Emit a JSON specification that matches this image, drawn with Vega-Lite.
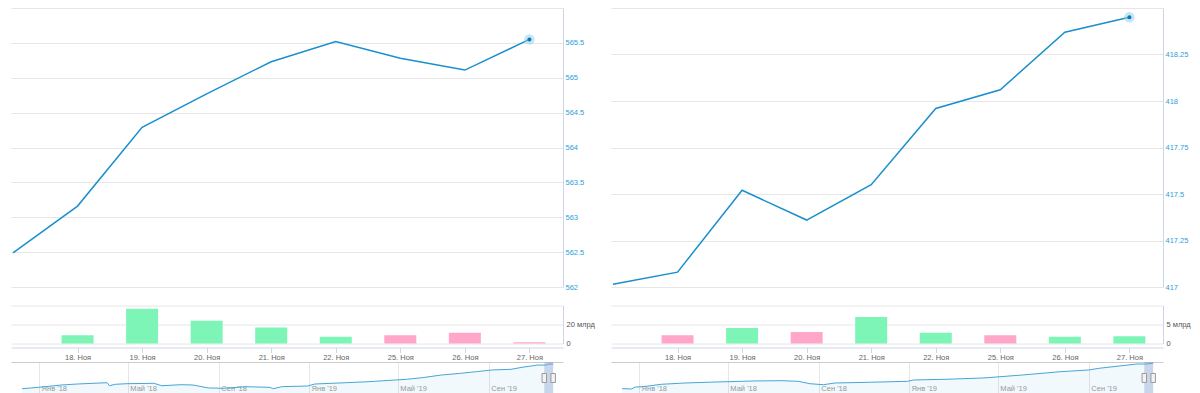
{
  "$schema": "https://vega.github.io/schema/vega-lite/v6.json",
  "padding": {"left": 10, "top": 8, "right": 0, "bottom": 0},
  "config": {
    "view": {"stroke": null},
    "font": "Liberation Sans",
    "axis": {"labelFont": "Liberation Sans", "labelFontSize": 7.5, "title": null, "labelOverlap": false, "tickCount": 20}
  },
  "datasets": {
    "a": [
      {"date": "2019-11-15", "price": 562.49, "vol": null, "flow": "in"},
      {"date": "2019-11-18", "price": 563.16, "vol": 8.6, "flow": "in"},
      {"date": "2019-11-19", "price": 564.29, "vol": 36.6, "flow": "in"},
      {"date": "2019-11-20", "price": 564.77, "vol": 24.0, "flow": "in"},
      {"date": "2019-11-21", "price": 565.23, "vol": 16.8, "flow": "in"},
      {"date": "2019-11-22", "price": 565.52, "vol": 7.1, "flow": "in"},
      {"date": "2019-11-25", "price": 565.28, "vol": 8.6, "flow": "out"},
      {"date": "2019-11-26", "price": 565.11, "vol": 11.4, "flow": "out"},
      {"date": "2019-11-27", "price": 565.55, "vol": 1.4, "flow": "out"}
    ],
    "b": [
      {"date": "2019-11-15", "price": 417.015, "vol": null, "flow": "in"},
      {"date": "2019-11-18", "price": 417.08, "vol": 2.2, "flow": "out"},
      {"date": "2019-11-19", "price": 417.52, "vol": 4.1, "flow": "in"},
      {"date": "2019-11-20", "price": 417.36, "vol": 3.0, "flow": "out"},
      {"date": "2019-11-21", "price": 417.55, "vol": 7.0, "flow": "in"},
      {"date": "2019-11-22", "price": 417.96, "vol": 2.8, "flow": "in"},
      {"date": "2019-11-25", "price": 418.06, "vol": 2.2, "flow": "out"},
      {"date": "2019-11-26", "price": 418.37, "vol": 1.8, "flow": "in"},
      {"date": "2019-11-27", "price": 418.45, "vol": 1.9, "flow": "in"}
    ],
    "navA": [
      {"date": "2017-12-09", "v": 500.0}, {"date": "2018-01-01", "v": 503.7}, {"date": "2018-01-31", "v": 509.8},
      {"date": "2018-02-22", "v": 512.5}, {"date": "2018-04-03", "v": 515.9}, {"date": "2018-04-06", "v": 507.9},
      {"date": "2018-04-14", "v": 511.7}, {"date": "2018-04-30", "v": 513.3}, {"date": "2018-06-05", "v": 514.3},
      {"date": "2018-06-16", "v": 507.9}, {"date": "2018-07-12", "v": 510.6}, {"date": "2018-07-28", "v": 509.8},
      {"date": "2018-08-18", "v": 501.9}, {"date": "2018-09-07", "v": 501.1}, {"date": "2018-10-08", "v": 505.3},
      {"date": "2018-11-08", "v": 503.7}, {"date": "2018-11-14", "v": 500.0}, {"date": "2018-11-25", "v": 505.3},
      {"date": "2018-12-30", "v": 507.2}, {"date": "2019-01-09", "v": 512.5}, {"date": "2019-02-20", "v": 515.9},
      {"date": "2019-03-23", "v": 518.6}, {"date": "2019-04-12", "v": 521.2}, {"date": "2019-05-13", "v": 524.9},
      {"date": "2019-06-03", "v": 529.2}, {"date": "2019-06-29", "v": 536.3}, {"date": "2019-07-25", "v": 540.8},
      {"date": "2019-08-15", "v": 545.1}, {"date": "2019-09-05", "v": 549.6}, {"date": "2019-10-01", "v": 551.4},
      {"date": "2019-10-16", "v": 556.7}, {"date": "2019-11-06", "v": 562.8}, {"date": "2019-11-15", "v": 562.49},
      {"date": "2019-11-18", "v": 563.16}, {"date": "2019-11-19", "v": 564.29}, {"date": "2019-11-20", "v": 564.77},
      {"date": "2019-11-21", "v": 565.23}, {"date": "2019-11-22", "v": 565.52}, {"date": "2019-11-25", "v": 565.28},
      {"date": "2019-11-26", "v": 565.11}, {"date": "2019-11-27", "v": 565.55}
    ],
    "navB": [
      {"date": "2017-12-09", "v": 372.0}, {"date": "2017-12-22", "v": 371.5}, {"date": "2017-12-27", "v": 375.1},
      {"date": "2018-01-06", "v": 375.6}, {"date": "2018-01-31", "v": 380.0}, {"date": "2018-03-04", "v": 382.4},
      {"date": "2018-04-15", "v": 384.2}, {"date": "2018-06-05", "v": 386.1}, {"date": "2018-07-12", "v": 386.6},
      {"date": "2018-08-04", "v": 385.5}, {"date": "2018-08-20", "v": 381.1}, {"date": "2018-09-07", "v": 379.3},
      {"date": "2018-09-23", "v": 382.4}, {"date": "2018-11-08", "v": 383.7}, {"date": "2018-12-30", "v": 385.5},
      {"date": "2019-01-07", "v": 387.9}, {"date": "2019-02-20", "v": 389.2}, {"date": "2019-04-12", "v": 391.6},
      {"date": "2019-06-03", "v": 397.0}, {"date": "2019-07-25", "v": 403.1}, {"date": "2019-09-01", "v": 406.2},
      {"date": "2019-09-15", "v": 409.3}, {"date": "2019-10-16", "v": 414.1}, {"date": "2019-11-06", "v": 417.2},
      {"date": "2019-11-15", "v": 417.015}, {"date": "2019-11-18", "v": 417.08}, {"date": "2019-11-19", "v": 417.52},
      {"date": "2019-11-20", "v": 417.36}, {"date": "2019-11-21", "v": 417.55}, {"date": "2019-11-22", "v": 417.96},
      {"date": "2019-11-25", "v": 418.06}, {"date": "2019-11-26", "v": 418.37}, {"date": "2019-11-27", "v": 418.45}
    ],
    "sel": [{"from": "2019-11-15", "to": "2019-11-27"}],
    "handles": [{"date": "2019-11-15"}, {"date": "2019-11-27"}]
  },
  "columns": 2,
  "spacing": {"row": 18.5, "column": 48},
  "bounds": "flush",
  "concat": [
    {
      "width": 552, "height": 279,
      "data": {"name": "a"},
      "layer": [
        {
          "mark": {"type": "line", "color": "#1a8fcd", "strokeWidth": 1.5},
          "encoding": {
            "x": {"field": "date", "type": "ordinal", "scale": {"type": "point", "domain": ["2019-11-15","2019-11-18","2019-11-19","2019-11-20","2019-11-21","2019-11-22","2019-11-25","2019-11-26","2019-11-27"], "padding": 0.2757, "align": 0.0562, "round": false}, "axis": null},
            "y": {"field": "price", "type": "quantitative", "scale": {"domain": [562, 566], "nice": false, "zero": false},
              "axis": {"orient": "right", "values": [562, 562.5, 563, 563.5, 564, 564.5, 565, 565.5], "tickCount": 20, "labelExpr": "'' + datum.value", "ticks": false, "domainColor": "#ccd6eb", "labelColor": "#2d9fd9", "labelPadding": 2, "grid": true, "gridColor": "#e6e6e6"}}
          }
        },
        {
          "transform": [{"filter": "datum.date == '2019-11-27'"}],
          "mark": {"type": "point", "filled": true, "size": 110, "color": "#8fcdeb", "opacity": 0.5},
          "encoding": {"x": {"field": "date", "type": "ordinal"}, "y": {"field": "price", "type": "quantitative",
            "axis": {"orient": "left", "values": [566], "labels": false, "ticks": false, "domain": false, "grid": true, "gridColor": "#e6e6e6"}}}
        },
        {
          "transform": [{"filter": "datum.date == '2019-11-27'"}],
          "mark": {"type": "point", "filled": true, "size": 16, "color": "#0b78b5", "opacity": 1},
          "encoding": {"x": {"field": "date", "type": "ordinal"}, "y": {"field": "price", "type": "quantitative", "axis": null}}
        }
      ],
      "resolve": {"axis": {"y": "independent"}}
    },
    {
      "width": 552, "height": 279,
      "data": {"name": "b"},
      "layer": [
        {
          "mark": {"type": "line", "color": "#1a8fcd", "strokeWidth": 1.5},
          "encoding": {
            "x": {"field": "date", "type": "ordinal", "scale": {"type": "point", "domain": ["2019-11-15","2019-11-18","2019-11-19","2019-11-20","2019-11-21","2019-11-22","2019-11-25","2019-11-26","2019-11-27"], "padding": 0.2757, "align": 0.0562, "round": false}, "axis": null},
            "y": {"field": "price", "type": "quantitative", "scale": {"domain": [417, 418.5], "nice": false, "zero": false},
              "axis": {"orient": "right", "values": [417, 417.25, 417.5, 417.75, 418, 418.25], "tickCount": 20, "labelExpr": "'' + datum.value", "ticks": false, "domainColor": "#ccd6eb", "labelColor": "#2d9fd9", "labelPadding": 2, "grid": true, "gridColor": "#e6e6e6"}}
          }
        },
        {
          "transform": [{"filter": "datum.date == '2019-11-27'"}],
          "mark": {"type": "point", "filled": true, "size": 110, "color": "#8fcdeb", "opacity": 0.5},
          "encoding": {"x": {"field": "date", "type": "ordinal"}, "y": {"field": "price", "type": "quantitative",
            "axis": {"orient": "left", "values": [418.5], "labels": false, "ticks": false, "domain": false, "grid": true, "gridColor": "#e6e6e6"}}}
        },
        {
          "transform": [{"filter": "datum.date == '2019-11-27'"}],
          "mark": {"type": "point", "filled": true, "size": 16, "color": "#0b78b5", "opacity": 1},
          "encoding": {"x": {"field": "date", "type": "ordinal"}, "y": {"field": "price", "type": "quantitative", "axis": null}}
        }
      ],
      "resolve": {"axis": {"y": "independent"}}
    },
    {
      "width": 552, "height": 38,
      "data": {"name": "a"},
      "layer": [
        {
          "transform": [{"filter": "datum.flow == 'in'"}],
          "mark": {"type": "bar", "width": 32, "color": "#7cf5b7"},
          "encoding": {
            "x": {"field": "date", "type": "ordinal", "scale": {"type": "point", "domain": ["2019-11-15","2019-11-18","2019-11-19","2019-11-20","2019-11-21","2019-11-22","2019-11-25","2019-11-26","2019-11-27"], "padding": 0.2757, "align": 0.0562, "round": false},
              "axis": {"orient": "bottom", "values": ["2019-11-18","2019-11-19","2019-11-20","2019-11-21","2019-11-22","2019-11-25","2019-11-26","2019-11-27"], "labelExpr": "slice(datum.value, 8) + '. Ноя'", "offset": 4, "domainColor": "#ccd6eb", "tickColor": "#ccd6eb", "tickSize": 5, "labelColor": "#666666", "labelPadding": 1, "labelAngle": 0, "grid": false}},
            "y": {"field": "vol", "type": "quantitative", "scale": {"domain": [0, 40], "nice": false},
              "axis": {"orient": "right", "values": [0, 20], "tickCount": 20, "labelExpr": "datum.value == 0 ? '0' : datum.value + ' млрд'", "ticks": false, "domainColor": "#ccd6eb", "labelColor": "#555555", "labelPadding": 3, "grid": true, "gridColor": "#e6e6e6"}}
          }
        },
        {
          "transform": [{"filter": "datum.flow == 'out'"}],
          "mark": {"type": "bar", "width": 32, "color": "#ffa6c9"},
          "encoding": {
            "x": {"field": "date", "type": "ordinal"},
            "y": {"field": "vol", "type": "quantitative",
              "axis": {"orient": "left", "values": [40], "labels": false, "ticks": false, "domain": false, "grid": true, "gridColor": "#e6e6e6"}}
          }
        }
      ],
      "resolve": {"axis": {"y": "independent"}}
    },
    {
      "width": 552, "height": 38,
      "data": {"name": "b"},
      "layer": [
        {
          "transform": [{"filter": "datum.flow == 'in'"}],
          "mark": {"type": "bar", "width": 32, "color": "#7cf5b7"},
          "encoding": {
            "x": {"field": "date", "type": "ordinal", "scale": {"type": "point", "domain": ["2019-11-15","2019-11-18","2019-11-19","2019-11-20","2019-11-21","2019-11-22","2019-11-25","2019-11-26","2019-11-27"], "padding": 0.2757, "align": 0.0562, "round": false},
              "axis": {"orient": "bottom", "values": ["2019-11-18","2019-11-19","2019-11-20","2019-11-21","2019-11-22","2019-11-25","2019-11-26","2019-11-27"], "labelExpr": "slice(datum.value, 8) + '. Ноя'", "offset": 4, "domainColor": "#ccd6eb", "tickColor": "#ccd6eb", "tickSize": 5, "labelColor": "#666666", "labelPadding": 1, "labelAngle": 0, "grid": false}},
            "y": {"field": "vol", "type": "quantitative", "scale": {"domain": [0, 10], "nice": false},
              "axis": {"orient": "right", "values": [0, 5], "tickCount": 20, "labelExpr": "datum.value == 0 ? '0' : datum.value + ' млрд'", "ticks": false, "domainColor": "#ccd6eb", "labelColor": "#555555", "labelPadding": 3, "grid": true, "gridColor": "#e6e6e6"}}
          }
        },
        {
          "transform": [{"filter": "datum.flow == 'out'"}],
          "mark": {"type": "bar", "width": 32, "color": "#ffa6c9"},
          "encoding": {
            "x": {"field": "date", "type": "ordinal"},
            "y": {"field": "vol", "type": "quantitative",
              "axis": {"orient": "left", "values": [10], "labels": false, "ticks": false, "domain": false, "grid": true, "gridColor": "#e6e6e6"}}
          }
        }
      ],
      "resolve": {"axis": {"y": "independent"}}
    },
    {
      "width": 552, "height": 31,
      "layer": [
        {
          "data": {"name": "navA"},
          "mark": {"type": "area", "color": "#4da6d9", "opacity": 0.07, "clip": true},
          "encoding": {
            "x": {"field": "date", "type": "temporal", "scale": {"type": "utc", "domain": [{"year": 2017, "month": 11, "date": 24, "utc": true}, {"year": 2019, "month": 12, "date": 10, "hours": 7, "utc": true}]},
              "axis": {"orient": "top", "labels": false, "ticks": false, "grid": false, "domain": true, "domainColor": "#cccccc"}},
            "y": {"field": "v", "type": "quantitative", "scale": {"domain": [488.6, 570.8], "nice": false, "zero": false}, "axis": null}
          }
        },
        {
          "data": {"name": "navA"},
          "mark": {"type": "line", "color": "#47a5d8", "strokeWidth": 1, "clip": true},
          "encoding": {
            "x": {"field": "date", "type": "temporal",
              "axis": {"orient": "bottom", "offset": -10, "values": [{"year": 2018, "month": 1, "date": 1, "utc": true}, {"year": 2018, "month": 5, "date": 1, "utc": true}, {"year": 2018, "month": 9, "date": 1, "utc": true}, {"year": 2019, "month": 1, "date": 1, "utc": true}, {"year": 2019, "month": 5, "date": 1, "utc": true}, {"year": 2019, "month": 9, "date": 1, "utc": true}],
                "labelExpr": "['Янв','Фев','Мар','Апр','Май','Июн','Июл','Авг','Сен','Окт','Ноя','Дек'][utcmonth(datum.value)] + \" '\" + slice(toString(utcyear(datum.value)), 2)",
                "domain": false, "ticks": false, "grid": true, "gridColor": "#e6e6e6", "labelAlign": "left", "labelOffset": 2, "labelPadding": 1, "labelColor": "#999999"}},
            "y": {"field": "v", "type": "quantitative"}
          }
        },
        {
          "data": {"name": "sel"},
          "mark": {"type": "rect", "color": "#6685c2", "opacity": 0.3},
          "encoding": {"x": {"field": "from", "type": "temporal", "axis": null}, "x2": {"field": "to"}}
        },
        {
          "data": {"name": "handles"},
          "mark": {"type": "point", "shape": "M-0.5,-1H0.5V1H-0.5Z", "size": 81, "filled": true, "fill": "#f2f2f2", "stroke": "#999999", "strokeWidth": 1, "opacity": 1},
          "encoding": {"x": {"field": "date", "type": "temporal", "axis": null}, "y": {"datum": 528.4}}
        },
        {
          "data": {"name": "navA"},
          "transform": [{"filter": "datum.date == '2019-11-27'"}],
          "mark": {"type": "point", "filled": true, "size": 110, "color": "#8fcdeb", "opacity": 0.5},
          "encoding": {"x": {"field": "date", "type": "temporal", "axis": null}, "y": {"field": "v", "type": "quantitative"}}
        },
        {
          "data": {"name": "navA"},
          "transform": [{"filter": "datum.date == '2019-11-27'"}],
          "mark": {"type": "point", "filled": true, "size": 12, "color": "#0b78b5", "opacity": 1},
          "encoding": {"x": {"field": "date", "type": "temporal", "axis": null}, "y": {"field": "v", "type": "quantitative"}}
        }
      ],
      "resolve": {"axis": {"x": "independent"}}
    },
    {
      "width": 552, "height": 31,
      "layer": [
        {
          "data": {"name": "navB"},
          "mark": {"type": "area", "color": "#4da6d9", "opacity": 0.07, "clip": true},
          "encoding": {
            "x": {"field": "date", "type": "temporal", "scale": {"type": "utc", "domain": [{"year": 2017, "month": 11, "date": 24, "utc": true}, {"year": 2019, "month": 12, "date": 10, "hours": 7, "utc": true}]},
              "axis": {"orient": "top", "labels": false, "ticks": false, "grid": false, "domain": true, "domainColor": "#cccccc"}},
            "y": {"field": "v", "type": "quantitative", "scale": {"domain": [364.1, 420.8], "nice": false, "zero": false}, "axis": null}
          }
        },
        {
          "data": {"name": "navB"},
          "mark": {"type": "line", "color": "#47a5d8", "strokeWidth": 1, "clip": true},
          "encoding": {
            "x": {"field": "date", "type": "temporal",
              "axis": {"orient": "bottom", "offset": -10, "values": [{"year": 2018, "month": 1, "date": 1, "utc": true}, {"year": 2018, "month": 5, "date": 1, "utc": true}, {"year": 2018, "month": 9, "date": 1, "utc": true}, {"year": 2019, "month": 1, "date": 1, "utc": true}, {"year": 2019, "month": 5, "date": 1, "utc": true}, {"year": 2019, "month": 9, "date": 1, "utc": true}],
                "labelExpr": "['Янв','Фев','Мар','Апр','Май','Июн','Июл','Авг','Сен','Окт','Ноя','Дек'][utcmonth(datum.value)] + \" '\" + slice(toString(utcyear(datum.value)), 2)",
                "domain": false, "ticks": false, "grid": true, "gridColor": "#e6e6e6", "labelAlign": "left", "labelOffset": 2, "labelPadding": 1, "labelColor": "#999999"}},
            "y": {"field": "v", "type": "quantitative"}
          }
        },
        {
          "data": {"name": "sel"},
          "mark": {"type": "rect", "color": "#6685c2", "opacity": 0.3},
          "encoding": {"x": {"field": "from", "type": "temporal", "axis": null}, "x2": {"field": "to"}}
        },
        {
          "data": {"name": "handles"},
          "mark": {"type": "point", "shape": "M-0.5,-1H0.5V1H-0.5Z", "size": 81, "filled": true, "fill": "#f2f2f2", "stroke": "#999999", "strokeWidth": 1, "opacity": 1},
          "encoding": {"x": {"field": "date", "type": "temporal", "axis": null}, "y": {"datum": 391.6}}
        },
        {
          "data": {"name": "navB"},
          "transform": [{"filter": "datum.date == '2019-11-27'"}],
          "mark": {"type": "point", "filled": true, "size": 110, "color": "#8fcdeb", "opacity": 0.5},
          "encoding": {"x": {"field": "date", "type": "temporal", "axis": null}, "y": {"field": "v", "type": "quantitative"}}
        },
        {
          "data": {"name": "navB"},
          "transform": [{"filter": "datum.date == '2019-11-27'"}],
          "mark": {"type": "point", "filled": true, "size": 12, "color": "#0b78b5", "opacity": 1},
          "encoding": {"x": {"field": "date", "type": "temporal", "axis": null}, "y": {"field": "v", "type": "quantitative"}}
        }
      ],
      "resolve": {"axis": {"x": "independent"}}
    }
  ]
}
